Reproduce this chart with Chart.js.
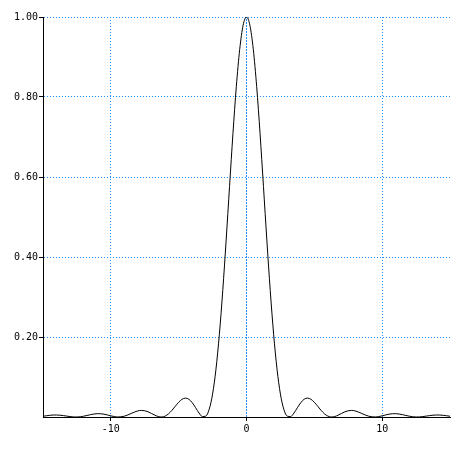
<!DOCTYPE html>
<html>
<head>
<meta charset="utf-8">
<script src="https://cdn.jsdelivr.net/npm/chart.js@4"></script>
<style>
  html, body { margin: 0; padding: 0; background: #fff; }
  #myChart { display: block; }
</style>
</head>
<body>
<canvas id="myChart" width="455" height="454"></canvas>
<script>
// x positions sampled across the plot
const xValues = [
  -15, -14.75, -14.5, -14.25, -14, -13.75, -13.5, -13.25, -13, -12.75, -12.5, -12.25,
  -12, -11.75, -11.5, -11.25, -11, -10.75, -10.5, -10.25, -10, -9.75, -9.5, -9.25,
  -9, -8.75, -8.5, -8.25, -8, -7.75, -7.5, -7.25, -7, -6.75, -6.5, -6.25,
  -6, -5.75, -5.5, -5.25, -5, -4.75, -4.5, -4.25, -4, -3.75, -3.5, -3.25,
  -3, -2.75, -2.5, -2.25, -2, -1.75, -1.5, -1.25, -1, -0.75, -0.5, -0.25,
  0,
  0.25, 0.5, 0.75, 1, 1.25, 1.5, 1.75, 2, 2.25, 2.5, 2.75, 3,
  3.25, 3.5, 3.75, 4, 4.25, 4.5, 4.75, 5, 5.25, 5.5, 5.75, 6,
  6.25, 6.5, 6.75, 7, 7.25, 7.5, 7.75, 8, 8.25, 8.5, 8.75, 9,
  9.25, 9.5, 9.75, 10, 10.25, 10.5, 10.75, 11, 11.25, 11.5, 11.75, 12,
  12.25, 12.5, 12.75, 13, 13.25, 13.5, 13.75, 14, 14.25, 14.5, 14.75, 15
];
// curve heights
const yValues = [
  0.0019, 0.0031, 0.0042, 0.0049, 0.0050, 0.0045, 0.0035, 0.0023, 0.0010, 0.0002, 0.0000, 0.0006,
  0.0020, 0.0039, 0.0058, 0.0074, 0.0083, 0.0081, 0.0070, 0.0051, 0.0030, 0.0011, 0.0001, 0.0004,
  0.0021, 0.0051, 0.0088, 0.0125, 0.0153, 0.0165, 0.0156, 0.0129, 0.0088, 0.0045, 0.0011, 0.0000,
  0.0022, 0.0078, 0.0165, 0.0268, 0.0368, 0.0443, 0.0472, 0.0444, 0.0358, 0.0232, 0.0100, 0.0011,
  0.0022, 0.0193, 0.0573, 0.1196, 0.2067, 0.3162, 0.4422, 0.5764, 0.7081, 0.8260, 0.9194, 0.9793,
  1.0000,
  0.9793, 0.9194, 0.8260, 0.7081, 0.5764, 0.4422, 0.3162, 0.2067, 0.1196, 0.0573, 0.0193, 0.0022,
  0.0011, 0.0100, 0.0232, 0.0358, 0.0444, 0.0472, 0.0443, 0.0368, 0.0268, 0.0165, 0.0078, 0.0022,
  0.0000, 0.0011, 0.0045, 0.0088, 0.0129, 0.0156, 0.0165, 0.0153, 0.0125, 0.0088, 0.0051, 0.0021,
  0.0004, 0.0001, 0.0011, 0.0030, 0.0051, 0.0070, 0.0081, 0.0083, 0.0074, 0.0058, 0.0039, 0.0020,
  0.0006, 0.0000, 0.0002, 0.0010, 0.0023, 0.0035, 0.0045, 0.0050, 0.0049, 0.0042, 0.0031, 0.0019
];
// dashed marker at the centre
const markerX = [0, 0];
const markerY = [0, 1];
// tick labels shown
const xTicks = [-10, 0, 10];
const yTicks = [0.2, 0.4, 0.6, 0.8, 1.0];

const gridBlue = '#1e90ff';
const font = { family: 'DejaVu Sans Mono', size: 10 };

const curve = xValues.map((x, i) => ({ x: x, y: yValues[i] }));
const marker = markerX.map((x, i) => ({ x: x, y: markerY[i] }));

// grid lines dotted, tick marks solid black
const gridOpts = {
  color: gridBlue,
  tickColor: '#000',
  tickBorderDash: [],
  tickLength: 4
};
const borderOpts = { color: '#000', width: 1, dash: [1, 2] };

new Chart(document.getElementById('myChart'), {
  type: 'line',
  data: {
    datasets: [{
      data: curve,
      borderColor: '#000',
      borderWidth: 1,
      pointRadius: 0,
      cubicInterpolationMode: 'monotone'
    }, {
      data: marker,
      borderColor: gridBlue,
      borderWidth: 1,
      borderDash: [2, 1],
      pointRadius: 0,
      tension: 0
    }]
  },
  options: {
    responsive: false,
    animation: false,
    events: [],
    layout: { padding: { top: 17, right: 5, left: 0, bottom: 0 } },
    plugins: { legend: { display: false }, tooltip: { enabled: false } },
    scales: {
      x: {
        type: 'linear',
        min: -15,
        max: 15,
        afterBuildTicks: s => { s.ticks = xTicks.map(v => ({ value: v })); },
        afterFit: s => { s.height = 37; },
        border: borderOpts,
        grid: gridOpts,
        ticks: { color: '#000', font: font, padding: 2, maxRotation: 0 }
      },
      y: {
        min: 0,
        max: 1,
        afterBuildTicks: s => { s.ticks = yTicks.map(v => ({ value: v })); },
        afterFit: s => { s.width = 43; },
        border: borderOpts,
        grid: gridOpts,
        ticks: {
          color: '#000',
          font: font,
          padding: 1,
          callback: v => Number(v).toFixed(2)
        }
      }
    }
  }
});
</script>
</body>
</html>
